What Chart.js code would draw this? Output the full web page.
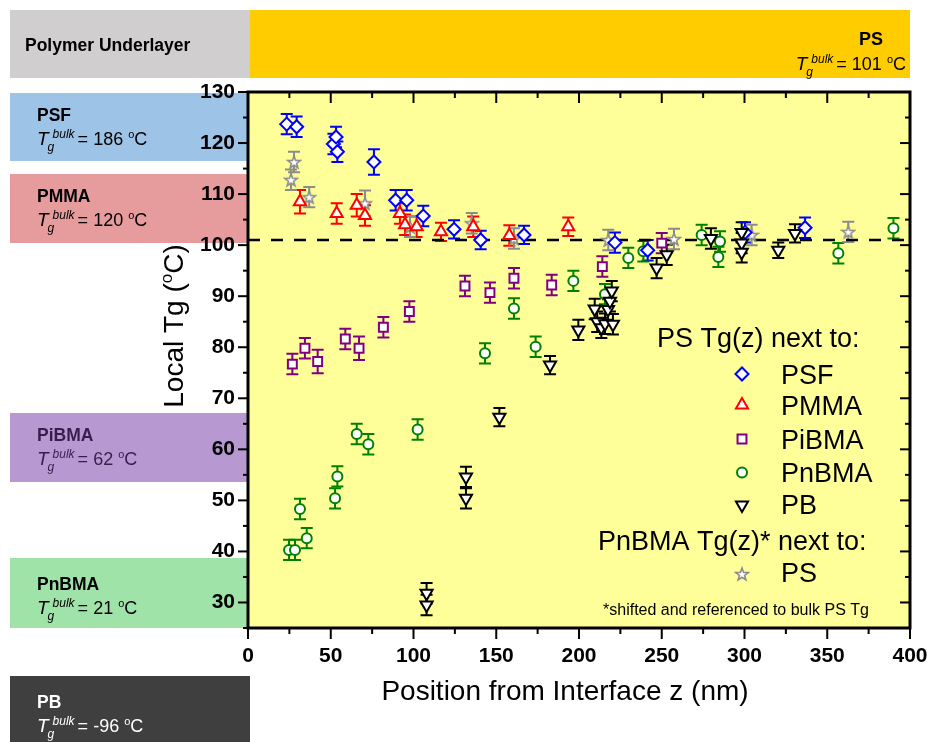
<!DOCTYPE html>
<html>
<head>
<meta charset="utf-8">
<script src="https://cdn.jsdelivr.net/npm/chart.js@4.4.1/dist/chart.umd.min.js"></script>
<style>
  body { margin: 0; background: #fff; }
</style>
</head>
<body>
<canvas id="c" width="930" height="742"></canvas>
<script>
"use strict";
// ---- data (z in nm, Tg in °C, err = half error bar) ----
const psfX   = [23.4, 29.4, 51.6, 53.2, 54.0, 76.1, 89.2, 95.9, 105.9, 124.5, 140.6, 166.8, 221.7, 241.5, 300.3, 336.6];
const psfY   = [123.7, 123.2, 119.8, 121.2, 118.3, 116.3, 108.8, 108.8, 105.7, 103.1, 101.0, 102.0, 100.5, 99.0, 102.5, 103.4];
const psfErr = [2, 2, 2, 2, 2, 2.5, 2, 2, 2, 1.8, 1.8, 1.8, 2, 2, 2, 2];

const pmmaX   = [31.4, 53.6, 65.7, 70.7, 91.8, 94.9, 101.9, 116.6, 136.1, 157.9, 193.5];
const pmmaY   = [108.5, 106.2, 107.8, 105.8, 106.2, 104.0, 103.6, 102.6, 103.6, 101.9, 103.6];
const pmmaErr = [2.3, 2, 2.2, 2, 2, 2, 2, 1.8, 2, 2, 1.8];

const pibmaX   = [26.8, 34.4, 42.1, 58.8, 67.1, 81.8, 97.5, 131.1, 146.2, 160.7, 183.5, 214.1, 250.0];
const pibmaY   = [76.7, 79.8, 77.2, 81.6, 79.8, 83.9, 87.0, 92.0, 90.7, 93.5, 92.2, 95.8, 100.4];
const pibmaErr = [2, 2, 2.3, 2, 2.3, 2, 2, 2, 2, 2, 2, 2, 2];

const pnbmaX   = [24.8, 28.4, 35.5, 31.4, 52.6, 54.0, 65.7, 72.7, 102.5, 143.2, 160.7, 173.8, 196.6, 215.7, 229.8, 238.9, 274.1, 284.2, 285.2, 356.7, 390.0];
const pnbmaY   = [40.3, 40.3, 42.6, 48.3, 50.4, 54.7, 63.0, 61.0, 63.9, 78.8, 87.6, 80.1, 93.0, 90.4, 97.5, 98.8, 102.0, 97.7, 100.7, 98.4, 103.3];
const pnbmaErr = [2, 2, 2, 2, 2, 2, 2, 2, 2, 2, 2, 2, 2, 2, 2, 2, 2, 2, 2, 2, 2];

const pbX   = [107.9, 107.9, 131.7, 131.7, 151.9, 182.5, 199.6, 209.5, 211.0, 213.5, 215.7, 217.5, 218.7, 219.8, 220.5, 246.9, 253.0, 279.7, 298.3, 298.3, 298.3, 320.4, 330.5];
const pbY   = [31.8, 29.5, 54.6, 50.4, 66.3, 76.5, 83.4, 87.5, 85.0, 83.8, 84.6, 87.4, 89.0, 91.0, 84.5, 95.5, 98.1, 101.3, 102.5, 100.4, 98.6, 99.0, 102.3];
const pbErr = [2, 2, 2, 2, 1.8, 1.8, 2, 2, 2, 2, 2, 2, 2, 2, 2, 2, 2, 2, 2, 2, 2, 1.5, 1.8];

const psX   = [26.0, 27.8, 37.0, 70.7, 97.9, 135.2, 160.7, 217.7, 257.4, 304.3, 362.7];
const psY   = [112.8, 116.3, 109.4, 108.2, 103.6, 104.3, 101.3, 101.0, 101.2, 102.0, 102.6];
const psErr = [2, 2, 2, 2.5, 2, 2, 2, 2, 2, 2, 2];

const bulkPS = 101;
const seriesNames = ["PSF", "PMMA", "PiBMA", "PnBMA", "PB"];
const xTitle = "Position from Interface z (nm)";
const yTitle = "Local Tg (";

// underlayer boxes on the left: name, bulk Tg, colours
const boxNames  = ["PSF", "PMMA", "PiBMA", "PnBMA", "PB"];
const boxTg     = ["186", "120", "62", "21", "-96"];
const boxFill   = ["#9dc3e6", "#e69c9c", "#b898d0", "#a0e3a8", "#3f3f3f"];
const boxInk    = ["#000", "#000", "#3b1d4d", "#000", "#fff"];
const boxTop    = [93, 174, 413, 558, 676];
const boxBottom = [161, 243, 482, 628, 742];

const FONT = "'Liberation Sans', Arial, sans-serif";

function pts(xs, ys) {
    return xs.map((x, i) => ({ x: x, y: ys[i] }));
}

function makeStar() {
    const c = document.createElement("canvas");
    c.width = 16; c.height = 16;
    const g = c.getContext("2d");
    g.beginPath();
    for (let k = 0; k < 10; k++) {
        const r = k % 2 ? 2.7 : 6.6;
        const a = -Math.PI / 2 + k * Math.PI / 5;
        g.lineTo(8 + r * Math.cos(a), 8.6 + r * Math.sin(a));
    }
    g.closePath();
    g.fillStyle = "#fff";
    g.fill();
    g.strokeStyle = "#8c8c8c";
    g.lineWidth = 1.6;
    g.stroke();
    return c;
}
const star = makeStar();

// T_g^bulk = xx °C  (x is left edge), returns width
function drawTg(ctx, x, base, val, ink, size) {
    ctx.fillStyle = ink;
    ctx.textBaseline = "alphabetic";
    ctx.textAlign = "left";
    ctx.font = "italic " + (size + 1) + "px " + FONT;
    ctx.fillText("T", x, base);
    const tw = ctx.measureText("T").width;
    ctx.font = "italic " + Math.round(size * 0.68) + "px " + FONT;
    ctx.fillText("g", x + tw - 1, base + 6);
    ctx.fillText("bulk", x + tw + 4, base - 7);
    const bw = ctx.measureText("bulk").width;
    let cx = x + tw + 4 + bw + 3;
    ctx.font = size + "px " + FONT;
    const s1 = "= " + val + " ";
    ctx.fillText(s1, cx, base);
    cx += ctx.measureText(s1).width;
    ctx.font = Math.round(size * 0.62) + "px " + FONT;
    ctx.fillText("o", cx, base - 7);
    cx += ctx.measureText("o").width;
    ctx.font = size + "px " + FONT;
    ctx.fillText("C", cx, base);
    cx += ctx.measureText("C").width;
    return cx - x;
}

const backdrop = {
    id: "backdrop",
    beforeDraw(chart) {
        const { ctx, chartArea: a } = chart;
        ctx.save();
        ctx.fillStyle = "#fff";
        ctx.fillRect(0, 0, chart.width, chart.height);

        // header band
        ctx.fillStyle = "#d0cece";
        ctx.fillRect(10, 10, 240, 68);
        ctx.fillStyle = "#ffcc00";
        ctx.fillRect(250, 10, 660, 68);
        ctx.fillStyle = "#000";
        ctx.font = "bold 17.5px " + FONT;
        ctx.textBaseline = "middle";
        ctx.fillText("Polymer Underlayer", 25, 46);
        ctx.textAlign = "right";
        ctx.font = "bold 18px " + FONT;
        ctx.textBaseline = "alphabetic";
        ctx.fillText("PS", 883, 45);
        const w = drawTg(document.createElement("canvas").getContext("2d"), 0, 0, "101", "#000", 18);
        drawTg(ctx, 906 - w, 70, "101", "#000", 18);

        // underlayer boxes
        boxNames.forEach((n, i) => {
            ctx.fillStyle = boxFill[i];
            ctx.fillRect(10, boxTop[i], 240, boxBottom[i] - boxTop[i]);
            const off = i >= 3 ? 4 : 0;
            ctx.fillStyle = boxInk[i];
            ctx.textAlign = "left";
            ctx.font = "bold 17.5px " + FONT;
            ctx.fillText(n, 37, boxTop[i] + 27.5 + off);
            drawTg(ctx, 37, boxTop[i] + 51.5 + off, boxTg[i], boxInk[i], 18);
        });

        // plot background
        ctx.fillStyle = "#ffff99";
        ctx.fillRect(a.left, a.top, a.right - a.left, a.bottom - a.top);
        ctx.restore();
    }
};

const errorBars = {
    id: "errorBars",
    beforeDatasetsDraw(chart) {
        const { ctx, scales: { x, y } } = chart;
        chart.data.datasets.forEach(ds => {
            if (!ds.errors) return;
            ctx.save();
            ctx.strokeStyle = ds.borderColor;
            ctx.lineWidth = 2;
            ds.data.forEach((p, j) => {
                const px = x.getPixelForValue(p.x);
                const y1 = y.getPixelForValue(p.y + ds.errors[j]);
                const y2 = y.getPixelForValue(p.y - ds.errors[j]);
                ctx.beginPath();
                ctx.moveTo(px, y1); ctx.lineTo(px, y2);
                ctx.moveTo(px - 6, y1); ctx.lineTo(px + 6, y1);
                ctx.moveTo(px - 6, y2); ctx.lineTo(px + 6, y2);
                ctx.stroke();
            });
            ctx.restore();
        });
    }
};

function line(ctx, x1, y1, x2, y2) {
    ctx.beginPath();
    ctx.moveTo(x1, y1);
    ctx.lineTo(x2, y2);
    ctx.stroke();
}

const frame = {
    id: "frame",
    afterDraw(chart) {
        const { ctx, chartArea: a, scales: { x, y } } = chart;
        ctx.save();
        ctx.strokeStyle = "#000";
        ctx.lineWidth = 2;
        x.ticks.forEach(t => {
            const px = x.getPixelForValue(t.value);
            const len = t.value % 50 === 0 ? 11 : 6;
            line(ctx, px, a.bottom, px, a.bottom + len);
            line(ctx, px, a.top, px, a.top + len);
        });
        y.ticks.forEach(t => {
            const py = y.getPixelForValue(t.value);
            const len = t.value % 10 === 0 ? 10 : 5;
            line(ctx, a.left - len, py, a.left, py);
            line(ctx, a.right - len, py, a.right, py);
        });
        ctx.lineWidth = 3;
        ctx.strokeRect(a.left, a.top, a.right - a.left, a.bottom - a.top);

        // axis titles
        ctx.fillStyle = "#000";
        ctx.font = "28px " + FONT;
        ctx.textAlign = "center";
        ctx.textBaseline = "alphabetic";
        ctx.fillText(xTitle, 565, 700);

        ctx.translate(183, 326);
        ctx.rotate(-Math.PI / 2);
        ctx.textAlign = "left";
        const w1 = ctx.measureText(yTitle).width;
        ctx.font = "17px " + FONT;
        const w2 = ctx.measureText("o").width;
        ctx.font = "28px " + FONT;
        const w3 = ctx.measureText("C)").width;
        let sx = -(w1 + w2 + w3) / 2;
        ctx.fillText(yTitle, sx, 0);
        sx += w1;
        ctx.font = "17px " + FONT;
        ctx.fillText("o", sx, -11);
        sx += w2;
        ctx.font = "28px " + FONT;
        ctx.fillText("C)", sx, 0);
        ctx.restore();
    }
};

const legendBox = {
    id: "legendBox",
    afterDraw(chart) {
        const { ctx } = chart;
        const rowY = [374, 405, 439, 472.5, 505];
        const baseY = [383.5, 414.5, 448.5, 482, 513.5];
        ctx.save();
        ctx.fillStyle = "#000";
        ctx.textAlign = "left";
        ctx.textBaseline = "alphabetic";
        ctx.font = "27px " + FONT;
        ctx.fillText("PS Tg(z) next to:", 657, 347);
        ctx.fillText("PnBMA Tg(z)* next to:", 598, 550);
        seriesNames.forEach((n, i) => {
            const ds = chart.data.datasets.find(d => d.label === n);
            ctx.fillStyle = "#fff";
            ctx.strokeStyle = ds.borderColor;
            ctx.lineWidth = 2;
            Chart.helpers.drawPoint(ctx, {
                pointStyle: ds.pointStyle, rotation: ds.rotation || 0,
                radius: ds.pointRadius, borderWidth: 2
            }, 742, rowY[i]);
            ctx.fillStyle = "#000";
            ctx.font = "27px " + FONT;
            ctx.fillText(n, 781, baseY[i]);
        });
        Chart.helpers.drawPoint(ctx, { pointStyle: star, radius: 7, borderWidth: 0 }, 742, 574);
        ctx.fillStyle = "#000";
        ctx.font = "27px " + FONT;
        ctx.fillText("PS", 781, 582);
        ctx.font = "16px " + FONT;
        ctx.fillText("*shifted and referenced to bulk PS Tg", 603, 615);
        ctx.restore();
    }
};

function series(label, xs, ys, errs, color, style, r, extra) {
    return Object.assign({
        label: label,
        data: pts(xs, ys),
        errors: errs,
        borderColor: color,
        backgroundColor: "#fff",
        pointStyle: style,
        pointRadius: r,
        pointBorderWidth: 2,
        pointHoverRadius: r
    }, extra || {});
}

function noSidePadding(s) {
    s.paddingLeft = 0;
    s.paddingRight = 0;
    s.paddingTop = 0;
    s.paddingBottom = 0;
}

Chart.defaults.font.family = FONT;
Chart.defaults.color = "#000";

new Chart(document.getElementById("c"), {
    type: "scatter",
    data: {
        datasets: [
            series("PB", pbX, pbY, pbErr, "#000000", "triangle", 7, { rotation: 180, order: 1 }),
            series("PSF", psfX, psfY, psfErr, "#0000ff", "rectRot", 6.5, { order: 2 }),
            series("PMMA", pmmaX, pmmaY, pmmaErr, "#ff0000", "triangle", 7, { order: 3 }),
            series("PiBMA", pibmaX, pibmaY, pibmaErr, "#800080", "rect", 6.3, { order: 4 }),
            series("PnBMA", pnbmaX, pnbmaY, pnbmaErr, "#008000", "circle", 5, { order: 5 }),
            series("PS", psX, psY, psErr, "#8c8c8c", star, 7, { order: 6 }),
            {
                label: "bulk PS",
                type: "line",
                data: [{ x: 0, y: bulkPS }, { x: 400, y: bulkPS }],
                borderColor: "#000",
                borderWidth: 2.5,
                borderDash: [12, 11],
                pointRadius: 0,
                order: 10
            }
        ]
    },
    options: {
        responsive: false,
        animation: false,
        events: [],
        layout: { padding: { left: 150, top: 92, right: 20, bottom: 0 } },
        plugins: { legend: { display: false }, tooltip: { enabled: false } },
        scales: {
            x: {
                type: "linear",
                min: 0, max: 400,
                border: { display: false },
                grid: { display: false, drawTicks: false },
                ticks: {
                    stepSize: 25, autoSkip: false, maxRotation: 0, padding: 16,
                    font: { size: 21, weight: "bold" },
                    callback: v => v % 50 === 0 ? v : ""
                },
                afterFit: s => { s.height = 114; noSidePadding(s); }
            },
            y: {
                type: "linear",
                min: 25, max: 130,
                border: { display: false },
                grid: { display: false, drawTicks: false },
                ticks: {
                    stepSize: 5, autoSkip: false, padding: 13,
                    font: { size: 21, weight: "bold" },
                    callback: v => v % 10 === 0 ? v : ""
                },
                afterFit: s => { s.width = 98; noSidePadding(s); }
            }
        }
    },
    plugins: [backdrop, errorBars, frame, legendBox]
});
</script>
</body>
</html>
